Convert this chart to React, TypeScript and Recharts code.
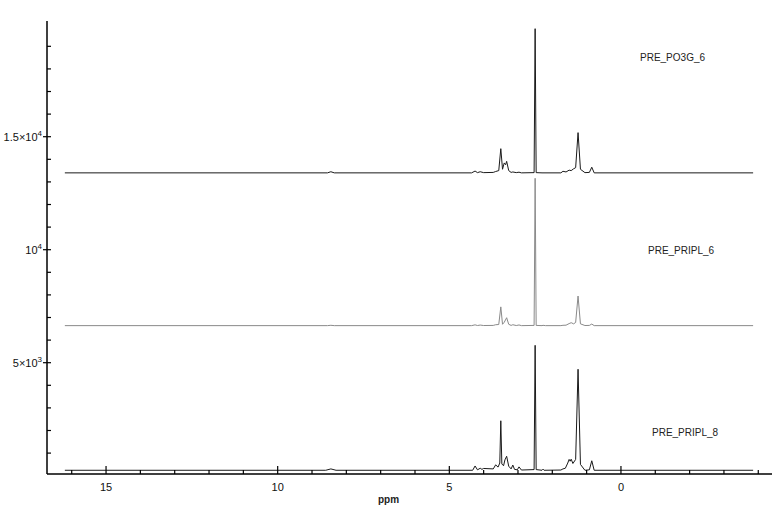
import React from "react";
import { LineChart, Line, XAxis, YAxis } from "recharts";

// ppm positions and intensities
const TOP_PPM = [16.2, 8.55, 8.45, 8.35, 4.35, 4.25, 4.18, 4.1, 4.0, 3.72, 3.65, 3.56, 3.5, 3.45, 3.4, 3.36, 3.33, 3.27, 3.2, 3.15, 3.05, 2.97, 2.9, 2.53, 2.5, 2.47, 2.3, 1.75, 1.69, 1.6, 1.51, 1.45, 1.38, 1.32, 1.25, 1.18, 1.05, 0.92, 0.85, 0.78, -3.85];
const TOP_INT = [13400, 13400, 13450, 13400, 13400, 13480, 13410, 13450, 13410, 13420, 13460, 13500, 14470, 13560, 13840, 13760, 13910, 13500, 13420, 13440, 13410, 13430, 13400, 13410, 19780, 13410, 13400, 13400, 13470, 13440, 13520, 13500, 13580, 13630, 15180, 13560, 13410, 13420, 13650, 13400, 13400];

const MID_PPM = [16.2, 8.55, 8.45, 8.35, 4.35, 4.25, 4.18, 4.1, 4.0, 3.72, 3.65, 3.56, 3.5, 3.45, 3.4, 3.33, 3.27, 3.2, 3.15, 3.05, 2.97, 2.9, 2.53, 2.5, 2.47, 2.3, 2.27, 2.2, 1.75, 1.69, 1.6, 1.51, 1.45, 1.38, 1.32, 1.25, 1.18, 1.05, 0.92, 0.85, 0.78, -3.85];
const MID_INT = [6640, 6640, 6655, 6640, 6640, 6675, 6645, 6665, 6645, 6650, 6680, 6690, 7470, 6700, 6790, 6990, 6700, 6650, 6680, 6645, 6670, 6640, 6650, 13160, 6650, 6640, 6655, 6640, 6640, 6655, 6660, 6730, 6770, 6720, 6780, 7950, 6720, 6645, 6650, 6710, 6640, 6640];

const BOT_PPM = [16.2, 8.6, 8.45, 8.3, 4.32, 4.25, 4.18, 4.1, 4.05, 4.0, 3.72, 3.65, 3.58, 3.53, 3.5, 3.47, 3.42, 3.38, 3.33, 3.27, 3.2, 3.15, 3.1, 3.02, 2.97, 2.9, 2.53, 2.5, 2.47, 2.3, 2.27, 2.24, 1.75, 1.69, 1.62, 1.55, 1.51, 1.48, 1.45, 1.4, 1.32, 1.25, 1.18, 1.05, 0.92, 0.85, 0.78, -3.85];
const BOT_INT = [240, 240, 300, 240, 240, 430, 260, 330, 280, 320, 300, 480, 380, 560, 2430, 520, 440, 700, 860, 420, 300, 470, 280, 260, 390, 250, 270, 5770, 270, 240, 290, 240, 250, 300, 330, 560, 720, 640, 730, 540, 720, 4710, 500, 240, 260, 660, 240, 240];

const SERIES_NAMES = ["PRE_PO3G_6", "PRE_PRIPL_6", "PRE_PRIPL_8"];

const X_TICKS = [16, 15, 14, 13, 12, 11, 10, 9, 8, 7, 6, 5, 4, 3, 2, 1, 0, -1, -2, -3, -4];
const Y_TICKS = [1000, 2000, 3000, 4000, 5000, 6000, 7000, 8000, 9000, 10000, 11000, 12000, 13000, 14000, 15000, 16000, 17000, 18000, 19000];
const Y_MAJOR = [5000, 10000, 15000];
const Y_MAJOR_LABELS = [["5×10", "3"], ["10", "4"], ["1.5×10", "4"]];

const FONT = "'Liberation Sans', Arial, sans-serif";

const toPoints = (ppm: number[], vals: number[]) =>
  ppm.map((p, i) => ({ ppm: p, v: vals[i] }));

const XTick = (props: any) => {
  const { x, y, payload } = props;
  const v = payload.value;
  const major = v % 5 === 0;
  return (
    <g>
      <line x1={x} x2={x} y1={y} y2={y - (major ? 8 : 4)} stroke="#000" strokeWidth={1.2} />
      {major && (
        <text x={x} y={y + 17} textAnchor="middle" fontSize={11} fontFamily={FONT} fill="#111">
          {v}
        </text>
      )}
    </g>
  );
};

const YTick = (props: any) => {
  const { x, y, payload } = props;
  const idx = Y_MAJOR.indexOf(payload.value);
  const major = idx >= 0;
  return (
    <g>
      <line x1={major ? x - 4 : x} x2={x + 4} y1={y} y2={y} stroke="#000" strokeWidth={1.2} />
      {major && (
        <text x={x - 5} y={y + 4} textAnchor="end" fontSize={11} fontFamily={FONT} fill="#111">
          {Y_MAJOR_LABELS[idx][0]}
          <tspan dy={-5} fontSize={8}>{Y_MAJOR_LABELS[idx][1]}</tspan>
        </text>
      )}
    </g>
  );
};

const labelStyle = (left: number, top: number): React.CSSProperties => ({
  position: "absolute",
  left,
  top,
  transform: "translateY(-50%)",
  fontFamily: FONT,
  fontSize: 10,
  lineHeight: "12px",
  color: "#222",
  whiteSpace: "nowrap",
});

export default function App() {
  return (
    <div style={{ position: "absolute", left: 0, top: 0, width: 782, height: 516, background: "#fff" }}>
      <LineChart width={782} height={516} margin={{ top: 21, right: 10, left: 0, bottom: 0 }}>
        <XAxis
          type="number"
          dataKey="ppm"
          domain={[-4.4, 16.72]}
          reversed
          ticks={X_TICKS}
          interval={0}
          tick={<XTick />}
          tickLine={false}
          tickSize={0}
          tickMargin={0}
          height={42}
          axisLine={{ stroke: "#000", strokeWidth: 1.5 }}
          allowDataOverflow
        />
        <YAxis
          type="number"
          domain={[75, 20120]}
          ticks={Y_TICKS}
          interval={0}
          tick={<YTick />}
          tickLine={false}
          tickSize={0}
          tickMargin={0}
          width={47}
          axisLine={{ stroke: "#000", strokeWidth: 1.5 }}
          allowDataOverflow
        />
        <Line data={toPoints(TOP_PPM, TOP_INT)} dataKey="v" name={SERIES_NAMES[0]} type="linear" stroke="#1a1a1a" strokeWidth={1} dot={false} isAnimationActive={false} />
        <Line data={toPoints(MID_PPM, MID_INT)} dataKey="v" name={SERIES_NAMES[1]} type="linear" stroke="#8a8a8a" strokeWidth={1} dot={false} isAnimationActive={false} />
        <Line data={toPoints(BOT_PPM, BOT_INT)} dataKey="v" name={SERIES_NAMES[2]} type="linear" stroke="#1a1a1a" strokeWidth={1} dot={false} isAnimationActive={false} />
      </LineChart>
      <div style={labelStyle(640, 58)}>{SERIES_NAMES[0]}</div>
      <div style={labelStyle(648, 251)}>{SERIES_NAMES[1]}</div>
      <div style={labelStyle(652, 433)}>{SERIES_NAMES[2]}</div>
      <div style={{ ...labelStyle(378, 500), fontWeight: "bold" }}>ppm</div>
    </div>
  );
}
